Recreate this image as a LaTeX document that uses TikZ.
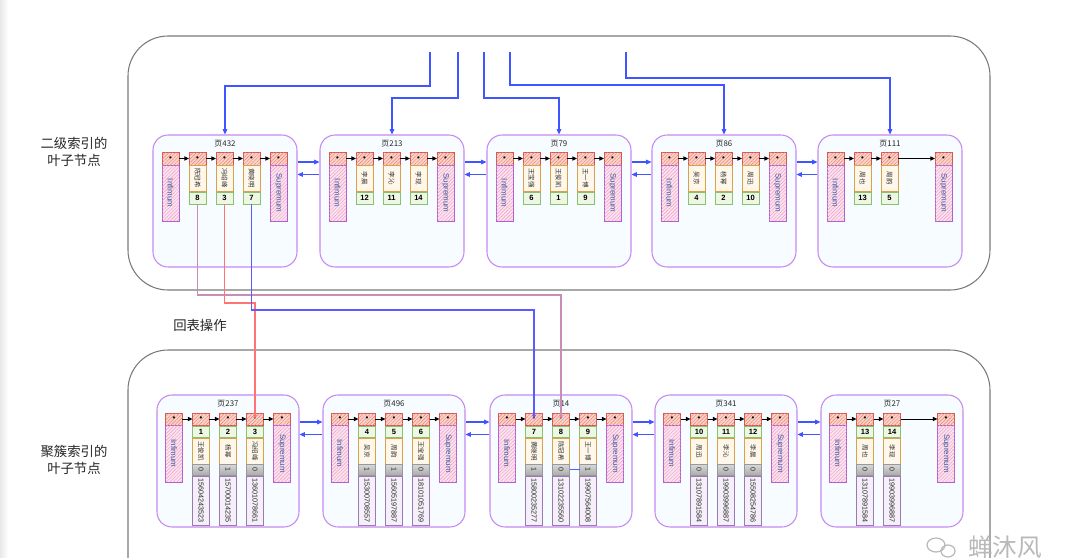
\documentclass[tikz,border=0pt]{standalone}
\usepackage{fontspec}
\setmainfont{Liberation Sans}
\newfontfamily\cjk{Noto Sans CJK SC}
\usepackage{graphicx}
\usetikzlibrary{arrows.meta,patterns.meta}

\definecolor{hdrline}{HTML}{D9534F}
\definecolor{hdrfill}{HTML}{FAD4CC}
\definecolor{hdrhatch}{HTML}{E8806C}
\definecolor{infline}{HTML}{B060D0}
\definecolor{inffill}{HTML}{FBE3EF}
\definecolor{infhatch}{HTML}{F09CC4}
\definecolor{inftext}{HTML}{3B5C9E}
\definecolor{nameline}{HTML}{D9A24A}
\definecolor{namefill}{HTML}{FFF8EA}
\definecolor{idline}{HTML}{8CBF6E}
\definecolor{idfill}{HTML}{EDF7E4}
\definecolor{phline}{HTML}{9A7AB0}
\definecolor{phfill}{HTML}{F4EFF8}
\definecolor{pageline}{HTML}{C58AF0}
\definecolor{pagefill}{HTML}{F6FCFF}
\definecolor{blueline}{HTML}{3F55FF}
\definecolor{retpurple}{HTML}{C98DB5}
\definecolor{retred}{HTML}{FF7373}
\definecolor{retblue}{HTML}{5A5AFF}
\definecolor{framecol}{HTML}{7A7A7A}

\newcommand\dotmark{{\fontsize{4.5}{4.5}\selectfont\textbullet}}
\newcommand\inffont{\fontsize{4.5}{4.5}\selectfont\color{inftext}}
\newcommand\idfont{\bfseries\fontsize{4.3}{4.3}\selectfont}
\newcommand\namefont{\cjk\fontsize{3.7}{3.7}\selectfont\color{black!80}}
\newcommand\phonefont{\fontsize{4.1}{4.1}\selectfont\color{black!85}}
\newcommand\bitfont{\fontsize{4}{4}\selectfont\color{black!85}}

\tikzset{
  cellbase/.style={rectangle, inner sep=0pt, outer sep=0pt, line width=0.45pt, minimum width=0.34cm},
  hdr/.style={cellbase, draw=hdrline, fill=hdrfill, minimum height=0.26cm,
    postaction={pattern={Lines[angle=45,distance=1.4pt,line width=0.25pt]}, pattern color=hdrhatch}},
  infbox/.style={cellbase, draw=infline, fill=inffill,
    postaction={pattern={Lines[angle=45,distance=1.4pt,line width=0.25pt]}, pattern color=infhatch}},
  namebox/.style={cellbase, draw=nameline, fill=namefill},
  idbox/.style={cellbase, draw=idline, fill=idfill},
  bitbox/.style={cellbase, draw=gray!80, top color=gray!30, bottom color=gray!65},
  phonebox/.style={cellbase, draw=phline, fill=phfill},
  pagebox/.style={rectangle, rounded corners=0.3cm, draw=pageline, fill=pagefill, line width=0.6pt, inner sep=0pt},
  ptitle/.style={inner sep=0pt, font={\cjk\fontsize{4.5}{4.5}\selectfont}, text=black!85},
  container/.style={draw=framecol, line width=0.6pt, rounded corners=0.8cm},
  harrow/.style={line width=0.5pt, -{Triangle[length=2.6pt,width=2.4pt]}},
  blink/.style={draw=blueline, line width=0.65pt, -{Triangle[length=3pt,width=2.6pt]}},
  ret/.style={line width=0.6pt, -{Triangle[length=2.4pt,width=2pt]}},
  lbl/.style={font={\cjk\fontsize{7.6}{9.8}\selectfont}, align=center, text=black!85, inner sep=0pt}
}

\newcommand\TopPage[5]{%
  \node[pagebox,minimum width=2.88cm,minimum height=2.64cm] (#1) at (#2,201) {};
  \node[ptitle] (#1t) at (#2,144) {#3};
  \node[hdr] (#1h0) at (#4,158.5) {\dotmark};
  \node[infbox,minimum height=1.12cm] (#1inf) at (#4,193) {\rotatebox{-90}{\inffont Infimum}};
  \node[hdr] (#1hs) at (#5,158.5) {\dotmark};
  \node[infbox,minimum height=1.12cm] (#1sup) at (#5,193) {\rotatebox{-90}{\inffont Supremum}};
}
\newcommand\TopRec[5]{%
  \node[hdr] (#1h#2) at (#3,158.5) {\dotmark};
  \node[namebox,minimum height=0.52cm] (#1n#2) at (#3,178) {\rotatebox{-90}{\namefont #4}};
  \node[idbox,minimum height=0.24cm] (#1i#2) at (#3,198) {\idfont #5};
}
\newcommand\BotPage[5]{%
  \node[pagebox,minimum width=2.84cm,minimum height=2.64cm] (#1) at (#2,461) {};
  \node[ptitle] (#1t) at (#2,404) {#3};
  \node[hdr,minimum height=0.24cm] (#1h0) at (#4,419) {\dotmark};
  \node[infbox,minimum height=1.14cm] (#1inf) at (#4,453.5) {\rotatebox{-90}{\inffont Infimum}};
  \node[hdr,minimum height=0.24cm] (#1hs) at (#5,419) {\dotmark};
  \node[infbox,minimum height=1.14cm] (#1sup) at (#5,453.5) {\rotatebox{-90}{\inffont Supremum}};
}
\newcommand\BotRec[7]{%
  \node[hdr,minimum height=0.24cm] (#1h#2) at (#3,419) {\dotmark};
  \node[idbox,minimum height=0.22cm] (#1i#2) at (#3,431.5) {\idfont #4};
  \node[namebox,minimum height=0.52cm] (#1n#2) at (#3,451) {\rotatebox{-90}{\namefont #5}};
  \node[bitbox,minimum height=0.22cm] (#1b#2) at (#3,469.5) {\rotatebox{-90}{\bitfont #6}};
  \node[phonebox,minimum height=0.98cm] (#1p#2) at (#3,500.5) {\rotatebox{-90}{\phonefont #7}};
}

\begin{document}
\begin{tikzpicture}[x=0.02cm,y=-0.02cm]
\useasboundingbox (0,0) rectangle (1080,558);
\clip (0,0) rectangle (1080,558);
\fill[white] (0,0) rectangle (1080,558);
\shade[left color=gray!18, right color=white] (0,0) rectangle (8,558);

% containers
\draw[container] (128,36) rectangle (990,290);
\draw[container] (128,350) rectangle (990,640);

% labels
\node[lbl] (lab1) at (74,152) {二级索引的\\叶子节点};
\node[lbl] (lab2) at (74,460) {聚簇索引的\\叶子节点};
\node[lbl] (lab3) at (200,325) {回表操作};

% ---------- secondary index pages ----------
\TopPage{T1}{225}{页432}{170.5}{278.5}
\TopRec{T1}{1}{197.5}{陈冠希}{8}
\TopRec{T1}{2}{224.5}{冯绍峰}{3}
\TopRec{T1}{3}{251.5}{黄晓明}{7}

\TopPage{T2}{392}{页213}{337.5}{445.5}
\TopRec{T2}{1}{364.5}{李晨}{12}
\TopRec{T2}{2}{391.5}{李沁}{11}
\TopRec{T2}{3}{418.5}{李现}{14}

\TopPage{T3}{559}{页79}{504.5}{612.5}
\TopRec{T3}{1}{531.5}{王宝强}{6}
\TopRec{T3}{2}{558.5}{王俊凯}{1}
\TopRec{T3}{3}{585.5}{王一博}{9}

\TopPage{T4}{724}{页86}{669.5}{777.5}
\TopRec{T4}{1}{696.5}{吴京}{4}
\TopRec{T4}{2}{723.5}{杨幂}{2}
\TopRec{T4}{3}{750.5}{周迅}{10}

\TopPage{T5}{890}{页111}{835.5}{943.5}
\TopRec{T5}{1}{862.5}{周也}{13}
\TopRec{T5}{2}{889.5}{周韵}{5}

% ---------- clustered index pages ----------
\BotPage{B1}{228}{页237}{174}{282}
\BotRec{B1}{1}{201}{1}{王俊凯}{0}{15604243523}
\BotRec{B1}{2}{228}{2}{杨幂}{1}{15700014235}
\BotRec{B1}{3}{255}{3}{冯绍峰}{0}{13601078661}

\BotPage{B2}{394}{页496}{340}{448}
\BotRec{B2}{1}{367}{4}{吴京}{1}{15300708557}
\BotRec{B2}{2}{394}{5}{周韵}{1}{15605197887}
\BotRec{B2}{3}{421}{6}{王宝强}{0}{18101051769}

\BotPage{B3}{561}{页14}{507}{615}
\BotRec{B3}{1}{534}{7}{黄晓明}{1}{15800235277}
\BotRec{B3}{2}{561}{8}{陈冠希}{0}{13102235560}
\BotRec{B3}{3}{588}{9}{王一博}{1}{19907564008}

\BotPage{B4}{726}{页341}{672}{780}
\BotRec{B4}{1}{699}{10}{周迅}{0}{13107891584}
\BotRec{B4}{2}{726}{11}{李沁}{0}{19903996887}
\BotRec{B4}{3}{753}{12}{李晨}{0}{15508254786}

\BotPage{B5}{892}{页27}{838}{946}
\BotRec{B5}{1}{865}{13}{周也}{0}{13107891584}
\BotRec{B5}{2}{892}{14}{李现}{0}{19903996887}

% record chains inside pages
\foreach \p in {T1,T2,T3,T4,B1,B2,B3,B4}{
  \draw[harrow] (\p h0) -- (\p h1);
  \draw[harrow] (\p h1) -- (\p h2);
  \draw[harrow] (\p h2) -- (\p h3);
  \draw[harrow] (\p h3) -- (\p hs);
}
\foreach \p in {T5,B5}{
  \draw[harrow] (\p h0) -- (\p h1);
  \draw[harrow] (\p h1) -- (\p h2);
  \draw[harrow] (\p h2) -- (\p hs);
}

% doubly linked pages
\foreach \a/\b in {T1/T2,T2/T3,T3/T4,T4/T5,B1/B2,B2/B3,B3/B4,B4/B5}{
  \draw[blink] ([yshift=0.78cm]\a.east) -- ([yshift=0.78cm]\b.west);
  \draw[blink] ([yshift=0.53cm]\b.west) -- ([yshift=0.53cm]\a.east);
}

% pointers from upper level
\coordinate (s1) at (430,52);
\coordinate (s2) at (458,52);
\coordinate (s3) at (484,52);
\coordinate (s4) at (510,52);
\coordinate (s5) at (626,52);
\draw[blink] (s1) -- (430,86) -| (T1.north);
\draw[blink] (s2) -- (458,98) -| (T2.north);
\draw[blink] (s3) -- (484,98) -| (T3.north);
\draw[blink] (s4) -- (510,85) -| (T4.north);
\draw[blink] (s5) -- (626,78) -| (T5.north);

% back-to-table lookups
\coordinate (m1) at (0,295);
\coordinate (m2) at (0,303);
\coordinate (m3) at (0,310);
\draw[ret,draw=retpurple] (T1i1.south) -- (T1i1.south |- m1) -| (B3h2.center);
\draw[ret,draw=retred] (T1i2.south) -- (T1i2.south |- m2) -| (B1h3.center);
\draw[ret,draw=retblue] (T1i3.south) -- (T1i3.south |- m3) -| (B3h1.center);
\draw[draw=retblue,line width=0.6pt] (B3b2.east) -- (B3b3.west);

% watermark
\draw[gray!55,line width=0.7pt] (936,545) ellipse [x radius=9, y radius=7];
\draw[gray!55,line width=0.7pt] (948,551) ellipse [x radius=7, y radius=6];
\node[font={\cjk\fontsize{14}{14}\selectfont}, text=gray!55, inner sep=0pt] (wm) at (1005,547) {蝉沐风};
\end{tikzpicture}
\end{document}
